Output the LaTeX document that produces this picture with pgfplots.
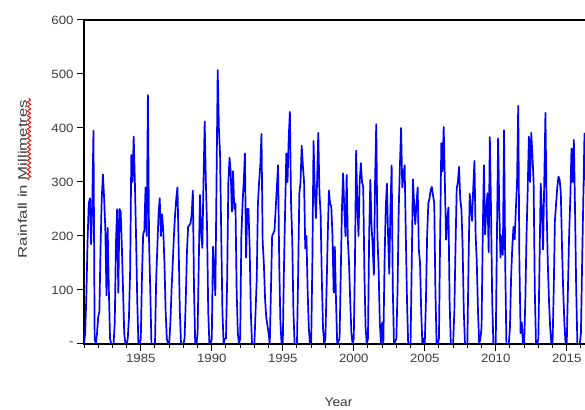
\documentclass[border=0pt]{standalone}
\usepackage{fontspec}
\setmainfont{Liberation Sans}[FakeStretch=1.1]
\usepackage{graphicx}
\usepackage{pgfplots}
\usepackage{pgfplotstable}
\pgfplotsset{compat=1.18}
\usetikzlibrary{decorations.pathmorphing}
\definecolor{ticktext}{RGB}{60,60,60}

% monthly rainfall (mm), Jan 1981 onwards, one year per line
\pgfplotstableread[row sep=\\]{
v\\
0\\ 20\\ 90\\ 190\\ 260\\ 270\\ 185\\ 260\\ 395\\ 10\\ 0\\ 20\\
50\\ 60\\ 180\\ 270\\ 314\\ 270\\ 215\\ 90\\ 215\\ 100\\ 10\\ 0\\
0\\ 0\\ 40\\ 187\\ 250\\ 95\\ 250\\ 245\\ 180\\ 100\\ 20\\ 0\\
0\\ 10\\ 50\\ 137\\ 350\\ 300\\ 384\\ 300\\ 200\\ 80\\ 0\\ 0\\
10\\ 125\\ 203\\ 210\\ 290\\ 200\\ 461\\ 190\\ 100\\ 0\\ 0\\ 0\\
0\\ 120\\ 180\\ 240\\ 270\\ 200\\ 240\\ 210\\ 150\\ 60\\ 10\\ 0\\
0\\ 40\\ 100\\ 150\\ 200\\ 240\\ 270\\ 290\\ 180\\ 60\\ 0\\ 0\\
0\\ 10\\ 80\\ 170\\ 217\\ 220\\ 223\\ 240\\ 284\\ 100\\ 0\\ 0\\
20\\ 150\\ 276\\ 210\\ 178\\ 300\\ 412\\ 300\\ 217\\ 60\\ 0\\ 0\\
10\\ 180\\ 140\\ 90\\ 300\\ 507\\ 400\\ 351\\ 200\\ 60\\ 0\\ 10\\
10\\ 120\\ 300\\ 345\\ 318\\ 245\\ 320\\ 250\\ 260\\ 100\\ 20\\ 0\\
10\\ 200\\ 260\\ 300\\ 353\\ 160\\ 250\\ 250\\ 180\\ 60\\ 0\\ 0\\
0\\ 60\\ 120\\ 260\\ 300\\ 330\\ 389\\ 190\\ 150\\ 85\\ 50\\ 35\\
20\\ 0\\ 100\\ 200\\ 205\\ 210\\ 250\\ 290\\ 331\\ 150\\ 40\\ 0\\
0\\ 140\\ 250\\ 353\\ 300\\ 380\\ 430\\ 262\\ 193\\ 60\\ 0\\ 0\\
0\\ 130\\ 279\\ 300\\ 367\\ 330\\ 300\\ 177\\ 200\\ 100\\ 30\\ 0\\
0\\ 150\\ 376\\ 290\\ 233\\ 300\\ 391\\ 280\\ 240\\ 120\\ 30\\ 0\\
10\\ 100\\ 200\\ 284\\ 260\\ 255\\ 200\\ 95\\ 180\\ 80\\ 0\\ 5\\
10\\ 130\\ 250\\ 316\\ 250\\ 200\\ 313\\ 193\\ 150\\ 80\\ 20\\ 0\\
10\\ 150\\ 358\\ 260\\ 200\\ 300\\ 335\\ 300\\ 290\\ 130\\ 30\\ 0\\
10\\ 200\\ 304\\ 220\\ 180\\ 128\\ 300\\ 407\\ 200\\ 140\\ 40\\ 0\\
40\\ 0\\ 150\\ 250\\ 297\\ 200\\ 130\\ 250\\ 331\\ 100\\ 0\\ 5\\
10\\ 100\\ 250\\ 330\\ 400\\ 290\\ 310\\ 331\\ 200\\ 80\\ 0\\ 0\\
0\\ 150\\ 305\\ 260\\ 222\\ 260\\ 290\\ 175\\ 150\\ 60\\ 0\\ 10\\
0\\ 80\\ 200\\ 260\\ 270\\ 285\\ 291\\ 275\\ 262\\ 100\\ 0\\ 0\\
10\\ 200\\ 372\\ 320\\ 402\\ 300\\ 193\\ 230\\ 253\\ 80\\ 0\\ 0\\
0\\ 60\\ 180\\ 288\\ 300\\ 328\\ 268\\ 250\\ 180\\ 60\\ 0\\ 0\\
0\\ 150\\ 278\\ 250\\ 228\\ 290\\ 339\\ 203\\ 150\\ 60\\ 0\\ 10\\
30\\ 200\\ 331\\ 203\\ 250\\ 279\\ 170\\ 383\\ 250\\ 80\\ 0\\ 0\\
0\\ 200\\ 381\\ 250\\ 160\\ 200\\ 165\\ 396\\ 150\\ 0\\ 0\\ 0\\
30\\ 125\\ 180\\ 217\\ 194\\ 250\\ 300\\ 441\\ 150\\ 20\\ 40\\ 0\\
0\\ 80\\ 200\\ 285\\ 384\\ 300\\ 391\\ 350\\ 300\\ 100\\ 0\\ 0\\
10\\ 150\\ 297\\ 250\\ 175\\ 300\\ 428\\ 250\\ 150\\ 80\\ 30\\ 0\\
0\\ 100\\ 228\\ 260\\ 290\\ 310\\ 304\\ 280\\ 180\\ 100\\ 40\\ 0\\
0\\ 100\\ 200\\ 268\\ 362\\ 300\\ 378\\ 250\\ 100\\ 0\\ 0\\ 0\\
20\\ 150\\ 268\\ 390\\ 300\\ 250\\ 300\\ 200\\ 100\\ 30\\ 0\\ 0\\
}\rain

\begin{document}
\begin{tikzpicture}
\begin{axis}[
  at={(84pt,65pt)}, anchor=south west,
  scale only axis, width=509pt, height=324pt,
  xmin=1981, xmax=2016.85, ymin=0, ymax=600,
  xtick={1985,1990,...,2015}, minor xtick={1981,...,2016},
  ytick={0,100,...,600}, yticklabels={-,100,200,300,400,500,600},
  /pgf/number format/set thousands separator={},
  /pgf/number format/assume math mode=true,
  tick align=outside, xtick pos=bottom, ytick pos=left,
  major tick length=7pt, minor tick length=4pt,
  every tick/.style={black, line width=1pt},
  tick label style={font=\fontsize{12}{14}\selectfont, text=ticktext},
  axis line style={line width=1.3pt, black},
  every axis y label/.style={at={(axis description cs:-0.112,0.509)}, anchor=base, rotate=90, font=\fontsize{12.5}{14}\selectfont, text=ticktext},
  every axis x label/.style={at={(axis description cs:0.5,-0.194)}, anchor=base, font=\fontsize{12.5}{14}\selectfont, text=ticktext},
  ylabel={\scalebox{1.22}[1]{Rainfall in Millimetres}},
  xlabel={Year},
  clip=true,
]
\addplot[blue, line width=1.7pt, line join=round, mark=none] table[x expr={1981+\coordindex/12}, y=v]{\rain};
\end{axis}
\draw[red, line width=0.9pt, decorate, decoration={snake, amplitude=1.6pt, segment length=4.5pt}] (29pt,229pt) -- (29pt,311pt);
\pgfresetboundingbox
\useasboundingbox (0,0) rectangle (585pt,409pt);
\end{tikzpicture}
\end{document}
